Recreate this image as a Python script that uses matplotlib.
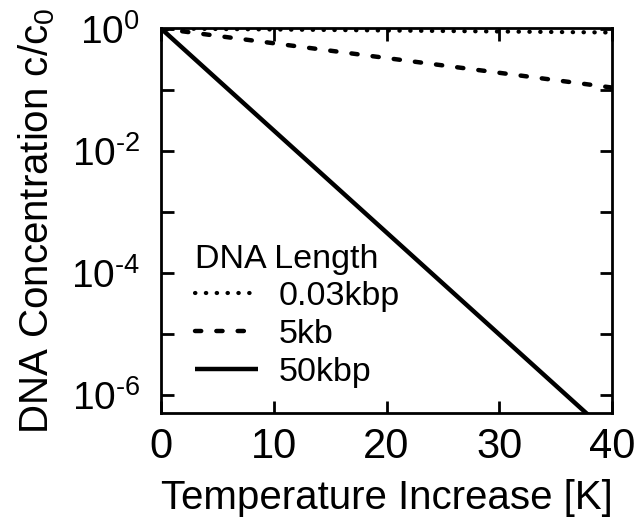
import math
import matplotlib
matplotlib.use("Agg")
import matplotlib.pyplot as plt
from matplotlib.ticker import FixedLocator, FuncFormatter, NullLocator

# values (straight lines on a log axis)
temperature = [0, 40]
conc_003kbp = [1.0, 0.86]
conc_5kb = [1.0, 0.108]
conc_50kbp = [1.0, 2.1e-7]

labels = ["0.03kbp", "5kb", "50kbp"]
x_ticks = [0, 10, 20, 30, 40]
y_decades = [0, -1, -2, -3, -4, -5, -6]

plt.rcParams["font.family"] = ["Liberation Sans", "DejaVu Sans"]
plt.rcParams["mathtext.fontset"] = "custom"
plt.rcParams["mathtext.rm"] = "Liberation Sans"

fig = plt.figure(figsize=(6.38, 5.24), dpi=100)
ax = fig.add_axes([0.2524, 0.2118, 0.7068, 0.7348])

ax.plot(temperature, conc_003kbp, color="black", lw=3,
        dashes=(0.1, 2.5), dash_capstyle="round", label=labels[0])
ax.plot(temperature, conc_5kb, color="black", lw=3.2,
        dashes=(1.4, 3.4), dash_capstyle="round", label=labels[1])
ax.plot(temperature, conc_50kbp, color="black", lw=3.2,
        solid_capstyle="butt", label=labels[2])

ax.set_yscale("log")
ax.set_xlim(0, 40)
ax.set_ylim(5.07e-7, 1.02)

ax.xaxis.set_major_locator(FixedLocator(x_ticks))
ax.yaxis.set_major_locator(FixedLocator([10.0 ** d for d in y_decades]))
ax.yaxis.set_minor_locator(NullLocator())

HYPHEN = "\u2010"

def ylab(v, pos):
    e = int(round(math.log10(v)))
    if e % 2:
        return ""
    if e < 0:
        return "$\\mathregular{10^{" + HYPHEN + str(-e) + "}}$"
    return "$\\mathregular{10^{%d}}$" % e

ax.yaxis.set_major_formatter(FuncFormatter(ylab))

ax.tick_params(which="major", direction="in", length=9, width=2,
               top=True, right=True)
ax.tick_params(axis="x", labelsize=30, pad=10)
ax.tick_params(axis="y", labelsize=28, pad=15)
for s in ax.spines.values():
    s.set_linewidth(2)

ax.set_xlabel("Temperature Increase [K]", fontsize=29, labelpad=9)
ax.set_ylabel(r"DNA Concentration c/c$_\mathregular{0}$", fontsize=29, labelpad=10)

leg = ax.legend(title="DNA Length", loc="lower left",
                bbox_to_anchor=(0.075, 0.065), frameon=False, fontsize=24.5,
                title_fontsize=24.5, alignment="left", handlelength=1.85,
                handletextpad=0.6, labelspacing=0.2, borderpad=0,
                borderaxespad=0)

fig.savefig("out.png", dpi=100)
